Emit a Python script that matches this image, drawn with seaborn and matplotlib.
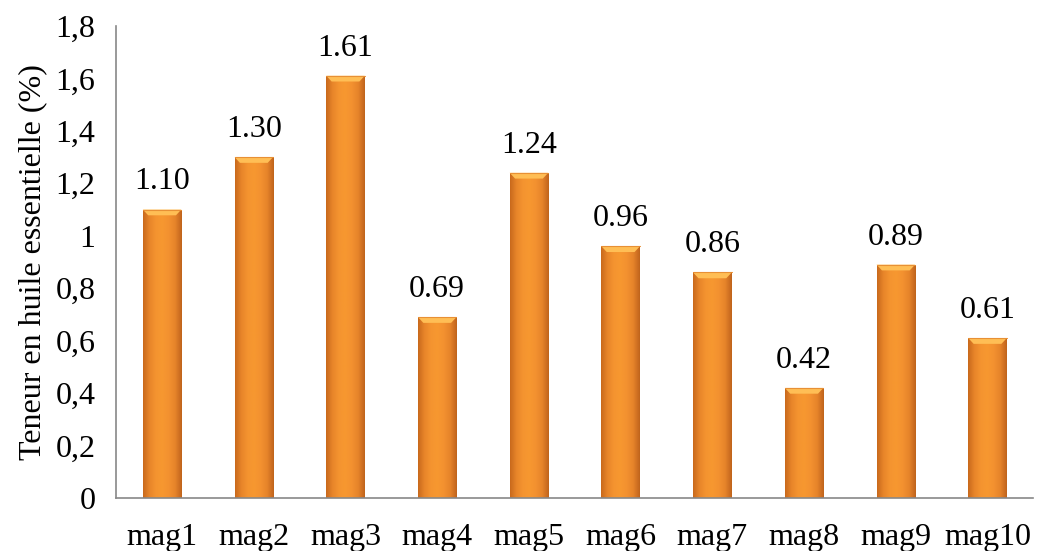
import numpy as np
import pandas as pd
import matplotlib
matplotlib.use("Agg")
import matplotlib.pyplot as plt
import seaborn as sns
from matplotlib.colors import LinearSegmentedColormap

categories = ["mag1", "mag2", "mag3", "mag4", "mag5", "mag6", "mag7", "mag8", "mag9", "mag10"]
values = [1.10, 1.30, 1.61, 0.69, 1.24, 0.96, 0.86, 0.42, 0.89, 0.61]
value_labels = ["1.10", "1.30", "1.61", "0.69", "1.24", "0.96", "0.86", "0.42", "0.89", "0.61"]
yticks = [0, 0.2, 0.4, 0.6, 0.8, 1.0, 1.2, 1.4, 1.6, 1.8]
ytick_labels = ["0", "0,2", "0,4", "0,6", "0,8", "1", "1,2", "1,4", "1,6", "1,8"]
ylabel = "Teneur en huile essentielle (%)"

sns.set_style("white")
plt.rcParams["font.family"] = ["Liberation Serif", "DejaVu Serif"]
plt.rcParams["text.color"] = "black"
plt.rcParams["xtick.labelcolor"] = "black"
plt.rcParams["ytick.labelcolor"] = "black"
plt.rcParams["axes.labelcolor"] = "black"

df = pd.DataFrame({"cat": categories, "val": values})

fig = plt.figure(figsize=(10.47, 5.51), dpi=100)
ax = fig.add_axes([0.111, 0.096, 0.876, 0.857])

sns.barplot(data=df, x="cat", y="val", color="#F39229", width=0.42,
            saturation=1, ax=ax, edgecolor="none")

FS = 23

# gradient fill for bars
cmap = LinearSegmentedColormap.from_list(
    "og", ["#C8691C", "#E8852A", "#F49430", "#F79830", "#F39130", "#E5832A", "#BF631C"])
grad = np.linspace(0, 1, 256).reshape(1, -1)
for p in ax.patches:
    x0, y0 = p.get_x(), p.get_y()
    w, h = p.get_width(), p.get_height()
    im = ax.imshow(grad, extent=[x0, x0 + w, y0, y0 + h], aspect="auto",
                   cmap=cmap, zorder=p.get_zorder() + 0.1)
    im.set_clip_path(p)
    # top bevel
    bev = min(0.022, h * 0.3)
    ax.fill([x0, x0 + w, x0 + w * 0.86, x0 + w * 0.14],
            [y0 + h, y0 + h, y0 + h - bev, y0 + h - bev],
            color="#FFBE55", zorder=p.get_zorder() + 0.2, lw=0)
    ax.plot([x0, x0 + w], [y0 + h, y0 + h], color="#E89035", lw=0.8,
            zorder=p.get_zorder() + 0.3)

for i, (v, lab) in enumerate(zip(values, value_labels)):
    ax.text(i, v + 0.05, lab, ha="center", va="bottom", fontsize=FS)

ax.set_xlim(-0.5, len(categories) - 0.5)
ax.set_ylim(0, 1.8)
ax.set_yticks(yticks)
ax.set_yticklabels(ytick_labels, fontsize=FS)
ax.set_xticks(range(len(categories)))
ax.set_xticklabels(categories, fontsize=FS)
ax.set_xlabel("")
ax.set_ylabel(ylabel, fontsize=FS, labelpad=6)

# minor ticks at category boundaries for Excel-style ticks
ax.set_xticks(np.arange(-0.5, len(categories), 1), minor=True)
ax.tick_params(axis="x", which="major", length=0, pad=18)
ax.tick_params(axis="x", which="minor", length=7, color="#888888", width=1.2, direction="out")
ax.tick_params(axis="y", which="major", length=7, color="#888888", width=1.2, direction="out", pad=8)

for s in ["top", "right"]:
    ax.spines[s].set_visible(False)
for s in ["left", "bottom"]:
    ax.spines[s].set_color("#888888")
    ax.spines[s].set_linewidth(1.2)

fig.savefig("out.png", dpi=100)
